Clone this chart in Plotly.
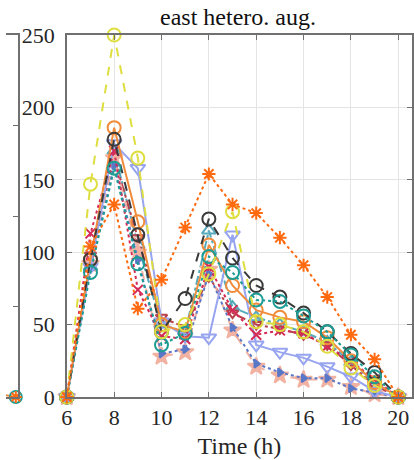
import plotly.graph_objects as go

hours = [6, 7, 8, 9, 10, 11, 12, 13, 14, 15, 16, 17, 18, 19, 20]

yellow_circ = [0, 147, 250, 165, 45, 50, 85, 128, 52, 50, 45, 35, 20, 8, 0]
orange_star = [0, 104, 133, 61, 81, 117, 154, 133, 127, 110, 91, 69, 43, 26, 0]
black_circ = [0, 95, 178, 112, 45, 68, 123, 96, 77, 69, 58, 45, 30, 17, 0]
teal_circ = [0, 86, 158, 92, 36, 44, 97, 86, 67, 66, 56, 45, 29, 14, 0]
orange_circ = [0, 95, 186, 121, 50, 45, 105, 77, 60, 55, 52, 41, 25, 10, 0]
peri_tri = [0, 90, 175, 158, 52, 42, 41, 112, 36, 31, 27, 21, 14, 4, 0]
crimson_x = [0, 113, 170, 74, 42, 40, 90, 60, 43, 46, 44, 35, 25, 12, 0]
pink_star = [0, 92, 165, 100, 28, 31, 88, 46, 21, 15, 12, 12, 7, 2, 0]
blue_tri = [0, 88, 160, 95, 30, 33, 85, 48, 23, 17, 13, 13, 6, 3, 0]
steel_tri = [0, 90, 170, 105, 50, 45, 115, 62, 55, 50, 45, 38, 24, 10, 0]
darkred_tri = [0, 98, 165, 110, 55, 48, 83, 58, 50, 47, 43, 36, 22, 8, 0]

left_hours = [19, 20]
left_orange = [2, 0]

x_ticks = [6, 8, 10, 12, 14, 16, 18, 20]
y_ticks = [0, 50, 100, 150, 200, 250]
left_y_ticks = [0, 50, 100, 150, 200]

series = [
    (steel_tri, "#55aabb", "dashdot", "triangle-up-open", 12),
    (darkred_tri, "#b8404a", "dashdot", "triangle-down-open", 10),
    (pink_star, "#f2b2a2", "dash", "star", 13),
    (blue_tri, "#5a78c8", "dot", "triangle-right", 7),
    (peri_tri, "#97a4f0", "solid", "triangle-down-open", 13),
    (crimson_x, "#d42a55", "dot", "x-thin-open", 10),
    (orange_circ, "#f08c3c", "solid", "circle-open", 13),
    (black_circ, "#3a3a3a", "dash", "circle-open", 13),
    (teal_circ, "#1d9c94", "dot", "circle-open", 13),
    (yellow_circ, "#dede40", "dash", "circle-open", 13),
    (orange_star, "#ff6a10", "dot", "asterisk-open", 11),
]

fig = go.Figure()
for ys, col, dash, sym, size in series:
    fig.add_trace(go.Scatter(
        x=hours, y=ys, mode="lines+markers", cliponaxis=False,
        line=dict(color=col, width=2, dash=dash),
        marker=dict(symbol=sym, size=size, color=col,
                    line=dict(color=col, width=2)),
        showlegend=False, xaxis="x", yaxis="y"))

# partially visible neighbouring panel on the left
fig.add_trace(go.Scatter(x=left_hours, y=left_orange, mode="lines+markers", cliponaxis=False,
                         line=dict(color="#f08c3c", width=2),
                         marker=dict(symbol="circle-open", size=12, color="#1d9c94",
                                     line=dict(color="#1d9c94", width=2)),
                         showlegend=False, xaxis="x2", yaxis="y2"))
fig.add_trace(go.Scatter(x=[20], y=[0], mode="markers", cliponaxis=False,
                         marker=dict(symbol="asterisk-open", size=10, color="#ff6a10",
                                     line=dict(color="#ff6a10", width=2)),
                         showlegend=False, xaxis="x2", yaxis="y2"))

font_family = "Liberation Serif"
axis_col = "#707070"

fig.update_layout(
    width=414, height=460,
    margin=dict(l=0, r=0, t=35, b=63),
    paper_bgcolor="white", plot_bgcolor="white",
    font=dict(family=font_family, size=22, color="#262626"),
    title=dict(text="east hetero. aug.", x=(62 + 414) / 2 / 414, xanchor="center",
               y=1 - 17 / 460, yanchor="middle",
               font=dict(family=font_family, size=24, color="#111111")),
    xaxis=dict(domain=[62 / 414, 1], range=[6, 20.58], tickvals=x_ticks,
               showgrid=True, gridcolor="#e4e4e4", gridwidth=1,
               showline=True, linecolor=axis_col, linewidth=1.5, mirror="ticks",
               ticks="inside", ticklen=5, tickcolor=axis_col, zeroline=False,
               title=dict(text="Time (h)", standoff=8,
                          font=dict(family=font_family, size=24)),
               tickfont=dict(family=font_family, size=22)),
    yaxis=dict(domain=[0, 1], range=[0, 250], tickvals=y_ticks,
               showgrid=True, gridcolor="#e4e4e4", gridwidth=1,
               showline=True, linecolor=axis_col, linewidth=1.5, mirror="ticks",
               ticks="inside", ticklen=5, tickcolor=axis_col, zeroline=False,
               tickfont=dict(family=font_family, size=22), ticklabelstandoff=6),
    xaxis2=dict(domain=[0, 12 / 414], range=[19.5, 20.1], showgrid=False,
                showticklabels=False, showline=True, linecolor=axis_col, linewidth=1.5,
                mirror=True, ticks="", zeroline=False, anchor="y2"),
    yaxis2=dict(domain=[0, 1], range=[0, 200], tickvals=left_y_ticks, side="right",
                showgrid=False, showticklabels=False, showline=True, linecolor=axis_col,
                linewidth=1.5, mirror=False, ticks="inside", ticklen=5,
                tickcolor=axis_col, zeroline=False, anchor="x2"),
)

fig.write_html("out.html")
